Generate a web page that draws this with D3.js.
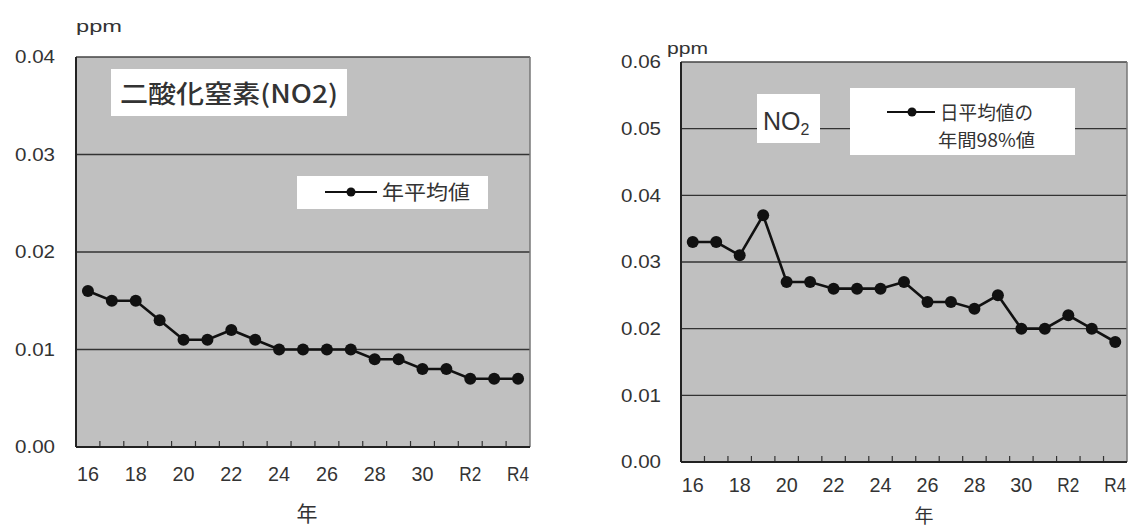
<!DOCTYPE html>
<html>
<head>
<meta charset="utf-8">
<script src="https://cdn.jsdelivr.net/npm/d3@7"></script>
<style>
  html, body { margin: 0; padding: 0; background: #fff; }
  svg { display: block; }
  text { font-family: "Liberation Sans", Arial, sans-serif; fill: #333; }
  .cjk { font-family: "Noto Sans CJK JP", sans-serif; }
</style>
</head>
<body>
<svg id="chart" width="1134" height="531"></svg>
<script>
// ---- data ----
const years = ["16","17","18","19","20","21","22","23","24","25","26","27","28","29","30","R1","R2","R3","R4"];
const xTickLabels = ["16","18","20","22","24","26","28","30","R2","R4"];
const annualMean = [0.016,0.015,0.015,0.013,0.011,0.011,0.012,0.011,0.010,0.010,0.010,0.010,0.009,0.009,0.008,0.008,0.007,0.007,0.007];
const daily98 = [0.033,0.033,0.031,0.037,0.027,0.027,0.026,0.026,0.026,0.027,0.024,0.024,0.023,0.025,0.020,0.020,0.022,0.020,0.018];
const yTicksLeft = [0, 0.01, 0.02, 0.03, 0.04];
const yTicksRight = [0, 0.01, 0.02, 0.03, 0.04, 0.05, 0.06];

const svg = d3.select("#chart");

function drawPanel(cfg) {
  const { left, right, top, bottom, yMax, yTicks, values } = cfg;
  const x = d3.scaleBand().domain(years).range([left, right]).padding(0);
  const y = d3.scaleLinear().domain([0, yMax]).range([bottom, top]);
  const g = svg.append("g");

  g.append("rect").attr("x", left).attr("y", top)
    .attr("width", right - left).attr("height", bottom - top)
    .attr("fill", "#c0c0c0");

  g.selectAll(".grid").data(yTicks.filter(t => t > 0 && t < yMax)).join("line")
    .attr("x1", left).attr("x2", right)
    .attr("y1", d => y(d)).attr("y2", d => y(d))
    .attr("stroke", "#333").attr("stroke-width", 1.4);

  g.append("line").attr("x1", left).attr("x2", right).attr("y1", top).attr("y2", top)
    .attr("stroke", "#444").attr("stroke-width", 1.5);
  g.append("line").attr("x1", right).attr("x2", right).attr("y1", top).attr("y2", bottom)
    .attr("stroke", "#777").attr("stroke-width", 1.5);

  g.selectAll(".bt").data(years.slice(1)).join("line")
    .attr("x1", d => x(d)).attr("x2", d => x(d))
    .attr("y1", bottom).attr("y2", bottom - 6)
    .attr("stroke", "#333").attr("stroke-width", 1.2);

  g.append("line").attr("x1", left).attr("x2", left).attr("y1", top).attr("y2", bottom)
    .attr("stroke", "#222").attr("stroke-width", 2);
  g.append("line").attr("x1", left).attr("x2", right).attr("y1", bottom).attr("y2", bottom)
    .attr("stroke", "#222").attr("stroke-width", 2);

  const ya = g.append("g").attr("transform", `translate(${left},0)`)
    .call(d3.axisLeft(y).tickValues(yTicks).tickFormat(d3.format(".2f")).tickSize(0).tickPadding(cfg.yPad));
  ya.select(".domain").remove();
  ya.attr("font-size", null).attr("font-family", null);
  ya.selectAll("text").style("font-size", cfg.yFont + "px").attr("fill", "#444")
    .attr("textLength", 40).attr("lengthAdjust", "spacingAndGlyphs");

  const xa = g.append("g").attr("transform", `translate(0,${bottom})`)
    .call(d3.axisBottom(x).tickValues(xTickLabels).tickSize(0).tickPadding(cfg.xPad));
  xa.select(".domain").remove();
  xa.attr("font-size", null).attr("font-family", null);
  xa.selectAll("text").style("font-size", cfg.xFont + "px").attr("fill", "#444")
    .attr("textLength", 22).attr("lengthAdjust", "spacingAndGlyphs");

  const line = d3.line().x((d, i) => x(years[i]) + x.bandwidth() / 2).y(d => y(d));
  g.append("path").datum(values).attr("d", line)
    .attr("fill", "none").attr("stroke", "#111").attr("stroke-width", 2.6);
  g.selectAll(".pt").data(values).join("circle")
    .attr("cx", (d, i) => x(years[i]) + x.bandwidth() / 2)
    .attr("cy", d => y(d)).attr("r", 6).attr("fill", "#111");

  return g;
}

// ---- Left panel ----
drawPanel({ left: 76, right: 530, top: 57, bottom: 447, yMax: 0.04, yTicks: yTicksLeft,
  values: annualMean, yPad: 21, yFont: 18, xPad: 19, xFont: 21 });

svg.append("text").attr("x", 76).attr("y", 32).style("font-size", "17px").attr("fill", "#444")
  .attr("textLength", 46).attr("lengthAdjust", "spacingAndGlyphs").text("ppm");
svg.append("rect").attr("x", 111).attr("y", 69).attr("width", 236).attr("height", 47).attr("fill", "#fff");
svg.append("text").attr("class", "cjk").attr("x", 120).attr("y", 103).style("font-size", "25px")
  .style("font-weight", 500).attr("fill", "#222").attr("textLength", 218).attr("lengthAdjust", "spacingAndGlyphs").text("二酸化窒素(NO2)");
svg.append("rect").attr("x", 297).attr("y", 176).attr("width", 191).attr("height", 33).attr("fill", "#fff");
svg.append("line").attr("x1", 325).attr("x2", 377).attr("y1", 192).attr("y2", 192).attr("stroke", "#111").attr("stroke-width", 2.2);
svg.append("circle").attr("cx", 351).attr("cy", 192).attr("r", 4.5).attr("fill", "#111");
svg.append("text").attr("class", "cjk").attr("x", 382).attr("y", 200).style("font-size", "20px")
  .attr("textLength", 88).attr("lengthAdjust", "spacingAndGlyphs").text("年平均値");
svg.append("text").attr("class", "cjk").attr("x", 307).attr("y", 521).attr("text-anchor", "middle")
  .style("font-size", "21px").attr("fill", "#222").text("年");

// ---- Right panel ----
drawPanel({ left: 681, right: 1127, top: 62, bottom: 462, yMax: 0.06, yTicks: yTicksRight,
  values: daily98, yPad: 20, yFont: 18, xPad: 15, xFont: 21 });

svg.append("text").attr("x", 667).attr("y", 54).style("font-size", "16px").attr("fill", "#444")
  .attr("textLength", 41).attr("lengthAdjust", "spacingAndGlyphs").text("ppm");
svg.append("rect").attr("x", 757).attr("y", 94).attr("width", 63).attr("height", 49).attr("fill", "#fff");
const no2 = svg.append("text").attr("x", 763).attr("y", 130).style("font-size", "25px").attr("fill", "#222");
no2.append("tspan").text("NO");
no2.append("tspan").attr("dy", 5).style("font-size", "16px").text("2");
svg.append("rect").attr("x", 850).attr("y", 88).attr("width", 225).attr("height", 67).attr("fill", "#fff");
svg.append("line").attr("x1", 887).attr("x2", 935).attr("y1", 112).attr("y2", 112).attr("stroke", "#111").attr("stroke-width", 2.2);
svg.append("circle").attr("cx", 912).attr("cy", 112).attr("r", 4.5).attr("fill", "#111");
svg.append("text").attr("class", "cjk").attr("x", 940).attr("y", 120).style("font-size", "19px")
  .attr("textLength", 93).attr("lengthAdjust", "spacingAndGlyphs").text("日平均値の");
svg.append("text").attr("class", "cjk").attr("x", 938).attr("y", 147).style("font-size", "18px")
  .attr("textLength", 97).attr("lengthAdjust", "spacingAndGlyphs").text("年間98%値");
svg.append("text").attr("class", "cjk").attr("x", 924).attr("y", 523).attr("text-anchor", "middle")
  .style("font-size", "19px").attr("fill", "#222").text("年");
</script>
</body>
</html>
